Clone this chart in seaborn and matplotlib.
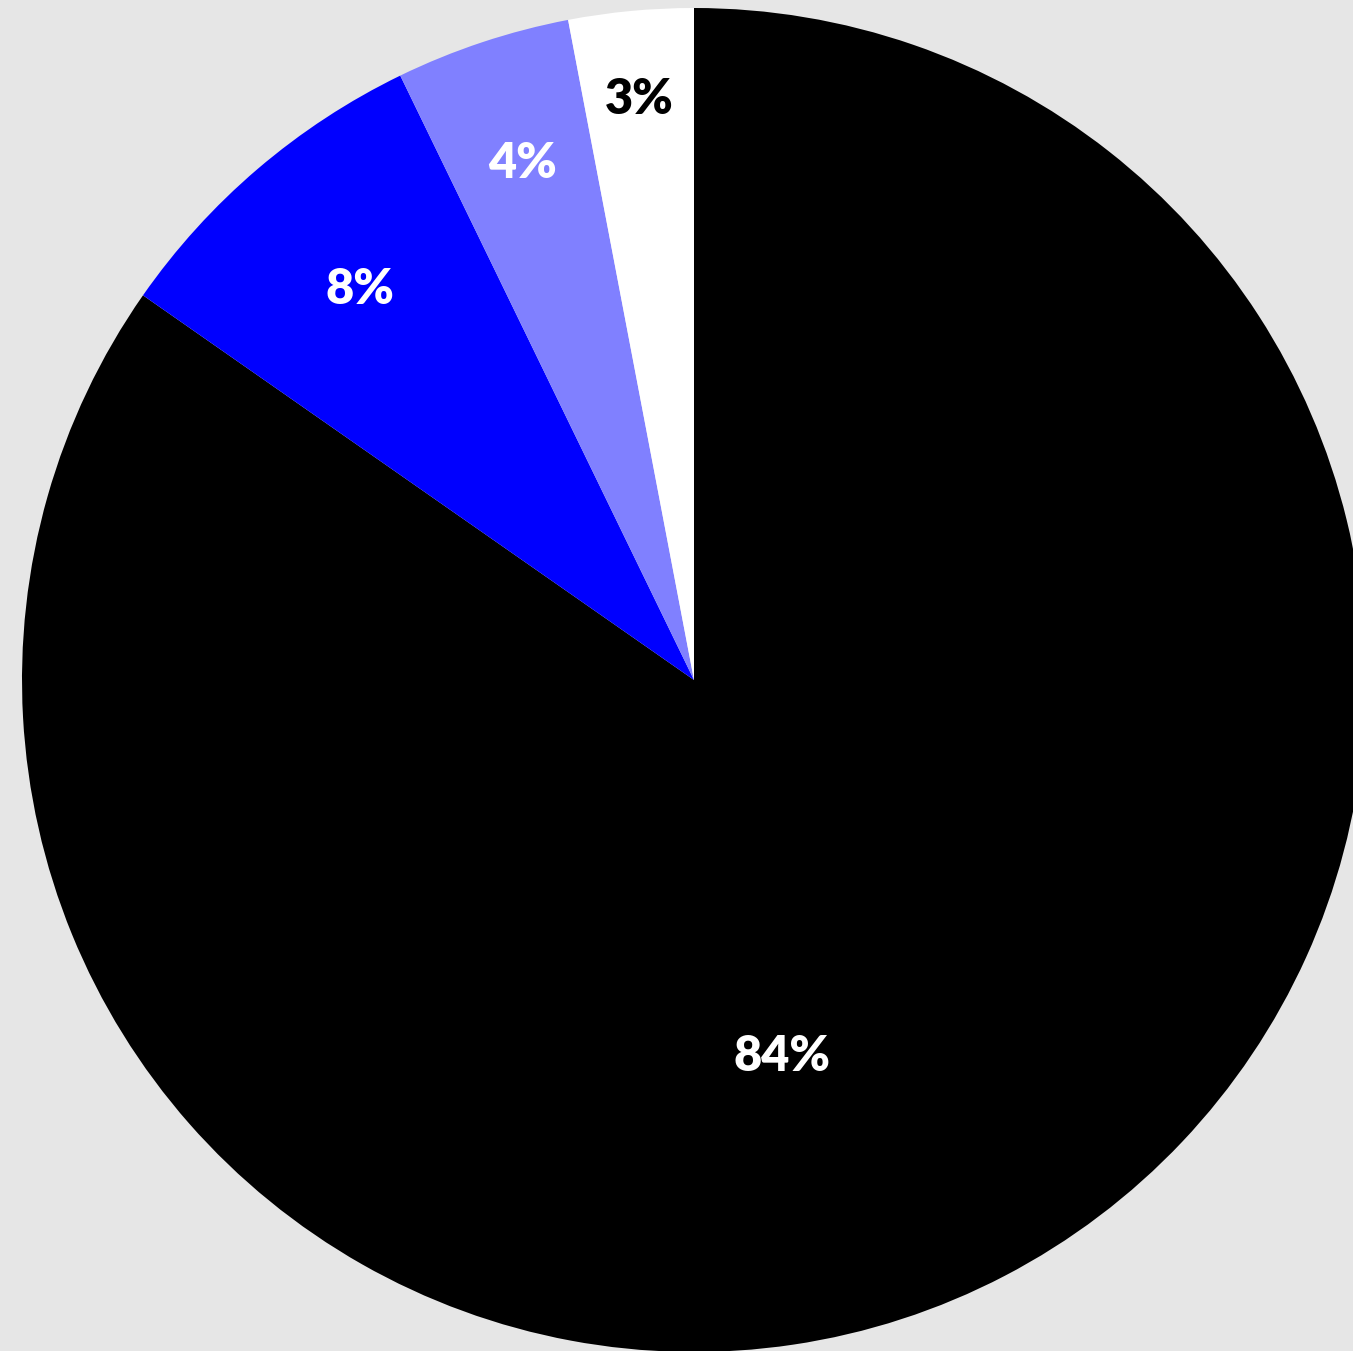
import matplotlib
matplotlib.use("Agg")
import matplotlib.pyplot as plt
import seaborn as sns
import numpy as np

sns.set_theme(style="white")
plt.rcParams['font.family'] = ['Lato', 'DejaVu Sans']

categories = ["A", "B", "C", "D"]
values = [84.7, 8.1, 4.2, 3.0]
labels = ["84%", "8%", "4%", "3%"]
colors = ["#000000", "#0000ff", "#8080ff", "#ffffff"]
label_colors = ["white", "white", "white", "black"]
label_dist = [0.575, 0.765, 0.81, 0.867]
label_angle_offset = [-14.4, 0.0, 0.0, 0.0]

W, H = 1353, 1351
fig = plt.figure(figsize=(W / 100, H / 100), dpi=100)
fig.patch.set_facecolor("#e6e6e6")
ax = fig.add_axes([0, 0, 1, 1])
ax.set_facecolor("#e6e6e6")

wedges, _ = ax.pie(values, colors=colors, startangle=90, counterclock=False,
                   radius=1.0, wedgeprops=dict(linewidth=0))

for w, lab, lc, d, off in zip(wedges, labels, label_colors, label_dist, label_angle_offset):
    mid = np.deg2rad((w.theta1 + w.theta2) / 2 + off)
    ax.text(d * np.cos(mid), d * np.sin(mid), lab, color=lc, ha="center", va="center",
            fontsize=35, fontweight="heavy")

r = 672.0
cx, cy = 694.0, 671.0
ax.set_xlim(-cx / r, (W - cx) / r)
ax.set_ylim(-cy / r, (H - cy) / r)
ax.set_aspect("auto")
ax.axis("off")

fig.savefig("out.png", dpi=100, facecolor=fig.get_facecolor())
